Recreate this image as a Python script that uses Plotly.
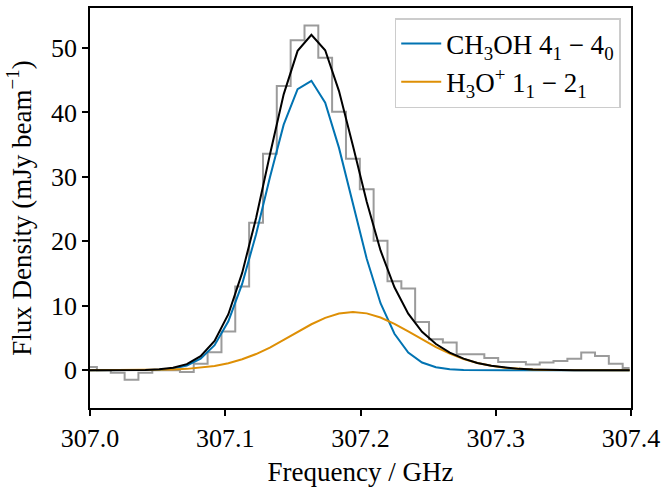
import plotly.graph_objects as go

freq = [307.0000, 307.0102, 307.0205, 307.0307, 307.0409, 307.0512, 307.0614, 307.0716,
        307.0818, 307.0921, 307.1023, 307.1125, 307.1228, 307.1330, 307.1432, 307.1535,
        307.1637, 307.1739, 307.1841, 307.1944, 307.2046, 307.2148, 307.2251, 307.2353,
        307.2455, 307.2558, 307.2660, 307.2762, 307.2864, 307.2967, 307.3069, 307.3171,
        307.3274, 307.3376, 307.3478, 307.3581, 307.3683, 307.3785, 307.3887, 307.3990]

observed = [0.5, 0.0, -0.4, -1.45, -0.4, 0.0, 0.0, -0.25,
            1.0, 2.8, 6.0, 13.0, 22.9, 33.6, 44.1, 51.2,
            53.5, 48.5, 40.1, 32.8, 28.1, 20.1, 13.8, 12.7,
            7.5, 4.8, 4.3, 2.5, 2.5, 1.9, 1.3, 1.3,
            0.9, 1.2, 1.45, 1.8, 2.75, 2.2, 1.0, 0.36]

ch3oh = [0.0, 0.0, 0.0, 0.01, 0.03, 0.09, 0.27, 0.74,
         1.79, 3.89, 7.6, 13.4, 21.1, 29.9, 38.1, 43.6,
         44.9, 41.5, 34.5, 25.8, 17.3, 10.4, 5.67, 2.76,
         1.2, 0.47, 0.17, 0.05, 0.01, 0.0, 0.0, 0.0,
         0.0, 0.0, 0.0, 0.0, 0.0, 0.0, 0.0, 0.0]

h3o = [0.0, 0.0, 0.0, 0.01, 0.02, 0.06, 0.11, 0.22,
       0.39, 0.67, 1.10, 1.71, 2.52, 3.53, 4.71, 5.95,
       7.14, 8.14, 8.81, 9.05, 8.83, 8.19, 7.21, 6.02,
       4.78, 3.60, 2.58, 1.75, 1.13, 0.69, 0.40, 0.22,
       0.12, 0.06, 0.03, 0.01, 0.0, 0.0, 0.0, 0.0]

total = [0.0, 0.0, 0.0, 0.02, 0.05, 0.15, 0.38, 0.96,
         2.18, 4.56, 8.70, 15.11, 23.62, 33.43, 42.81, 49.55,
         52.04, 49.64, 43.31, 34.85, 26.13, 18.59, 12.88, 8.78,
         5.98, 4.07, 2.75, 1.80, 1.14, 0.69, 0.40, 0.22,
         0.12, 0.06, 0.03, 0.01, 0.0, 0.0, 0.0, 0.0]

x_ticks = [307.0, 307.1, 307.2, 307.3, 307.4]
x_tick_labels = ["307.0", "307.1", "307.2", "307.3", "307.4"]
y_ticks = [0, 10, 20, 30, 40, 50]

FONT = "Liberation Serif"

fig = go.Figure()
fig.add_trace(go.Scatter(x=freq, y=observed, mode="lines", line_shape="hvh",
                         line=dict(color="rgb(155,155,155)", width=2), showlegend=False))
fig.add_trace(go.Scatter(x=freq, y=ch3oh, mode="lines",
                         line=dict(color="#0173B2", width=2),
                         name="CH<sub>3</sub>OH 4<sub>1</sub> − 4<sub>0</sub>"))
fig.add_trace(go.Scatter(x=freq, y=h3o, mode="lines",
                         line=dict(color="#DE8F05", width=2),
                         name="H<sub>3</sub>O<sup>+</sup> 1<sub>1</sub> − 2<sub>1</sub>"))
fig.add_trace(go.Scatter(x=freq, y=total, mode="lines",
                         line=dict(color="black", width=2), showlegend=False))

axis_common = dict(showline=True, linecolor="black", linewidth=1.5, mirror=True,
                   ticks="outside", ticklen=6, tickwidth=1.5, tickcolor="black",
                   showgrid=False, zeroline=False,
                   tickfont=dict(family=FONT, size=26, color="black"))

fig.update_xaxes(range=[307.0, 307.4], tickvals=x_ticks, ticktext=x_tick_labels,
                 automargin=False,
                 title=dict(text="Frequency / GHz", font=dict(family=FONT, size=27, color="black")),
                 **axis_common)
fig.update_yaxes(range=[-5.85, 56.2], tickvals=y_ticks, automargin=True,
                 title=dict(text="Flux Density (mJy beam<sup>−1</sup>)",
                            font=dict(family=FONT, size=27, color="black"), standoff=12),
                 **axis_common)

fig.update_layout(
    width=663, height=487,
    margin=dict(l=90, r=32, t=8, b=79),
    paper_bgcolor="white", plot_bgcolor="white",
    font=dict(family=FONT, size=26, color="black"),
    legend=dict(x=0.981, y=0.975, xanchor="right", yanchor="top",
                bgcolor="rgba(255,255,255,0.8)", bordercolor="#cccccc", borderwidth=1.5,
                font=dict(family=FONT, size=27, color="black"),
                tracegroupgap=0, itemwidth=40, entrywidth=252, entrywidthmode="pixels"),
)

fig.write_html("out.html", config={"displayModeBar": False},
               post_script="document.body.style.margin='0';")
